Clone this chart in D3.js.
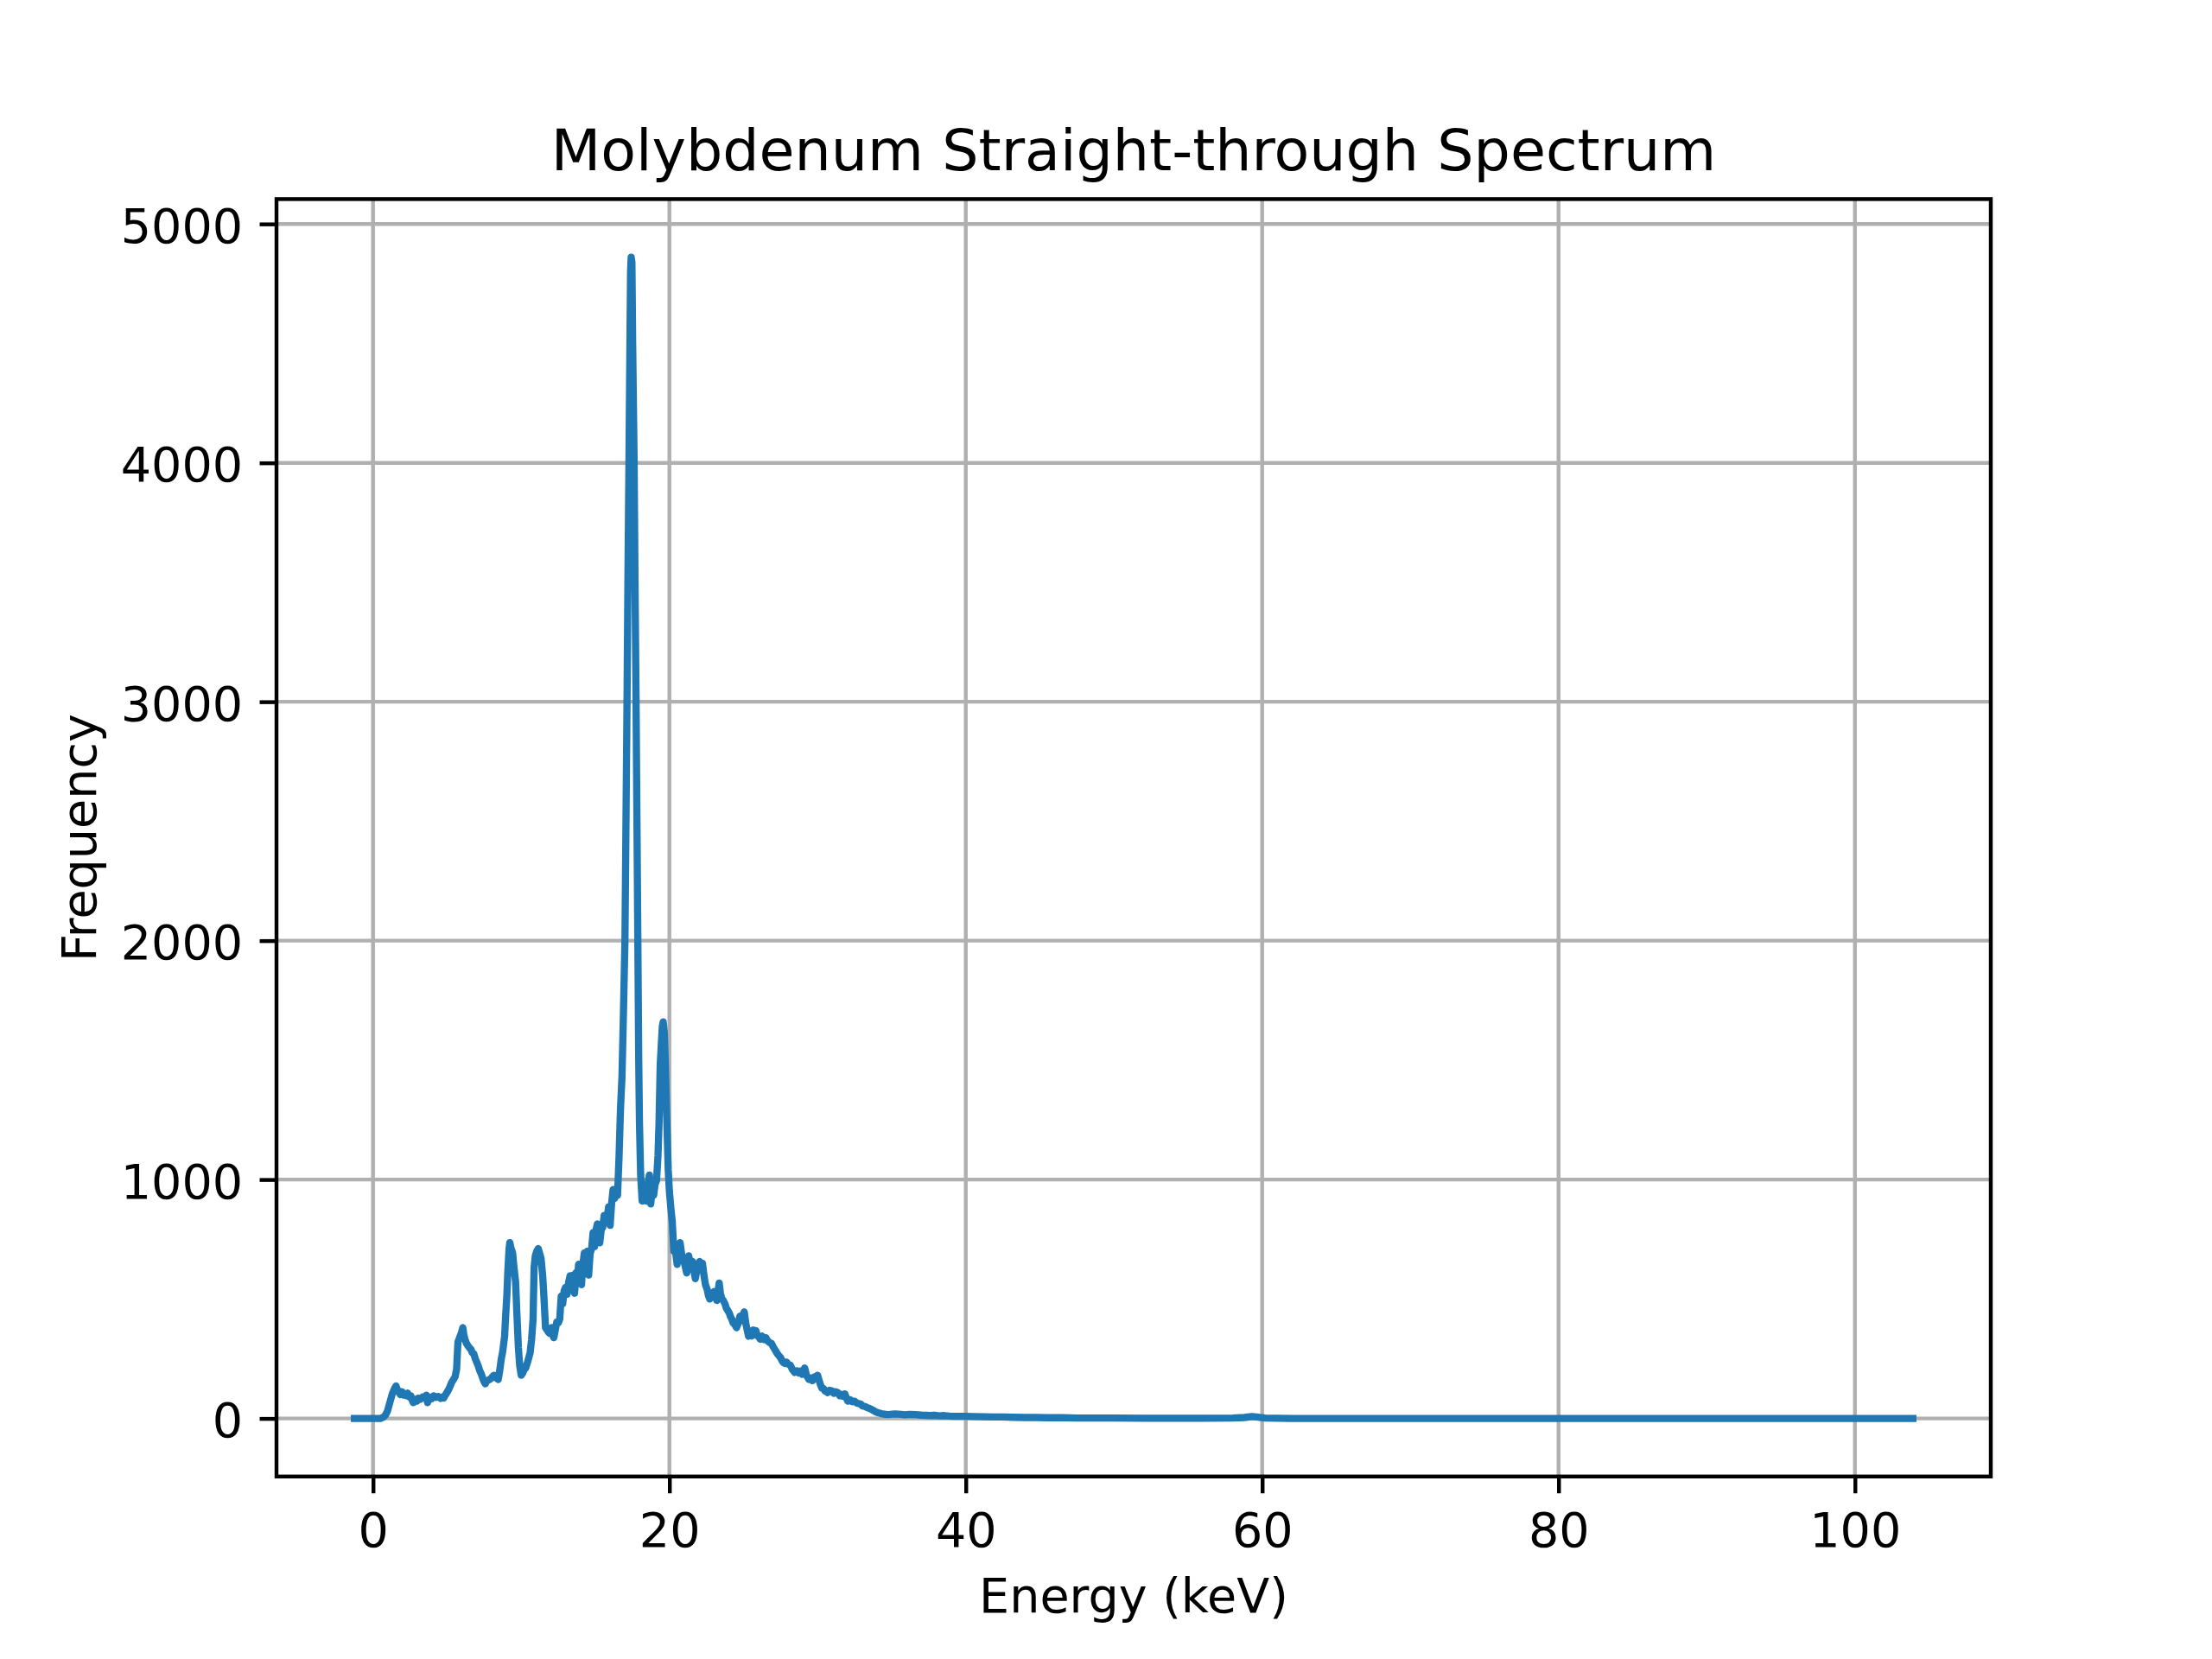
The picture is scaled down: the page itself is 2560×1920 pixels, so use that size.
<!DOCTYPE html>
<html>
<head>
<meta charset="utf-8">
<script src="https://cdn.jsdelivr.net/npm/d3@7"></script>
<style>
  html, body { margin: 0; padding: 0; background: #ffffff; }
  svg { display: block; }
  text { font-family: "DejaVu Sans", sans-serif; fill: #000; }
</style>
</head>
<body>
<svg id="chart" width="2560" height="1920"></svg>
<script>
// ---- Data ----
const titleText = "Molybdenum Straight-through Spectrum";
const xLabelText = "Energy (keV)";
const yLabelText = "Frequency";
const xTickValues = [0, 20, 40, 60, 80, 100];
const yTickValues = [0, 1000, 2000, 3000, 4000, 5000];

const energyKeV = [
  -1.255, 0.5, 0.7, 0.85, 0.97, 1.15, 1.30, 1.45, 1.55, 1.65, 1.75, 1.84, 1.95, 2.05, 2.15, 2.25, 2.33, 2.45, 2.55, 2.65,
  2.72, 2.85, 2.95, 3.05, 3.2, 3.35, 3.5, 3.6, 3.68, 3.8, 3.95, 4.1, 4.25, 4.4, 4.55, 4.7, 4.76, 4.9, 5.05, 5.15,
  5.3, 5.45, 5.54, 5.64, 5.73, 5.85, 5.95, 6.06, 6.13, 6.2, 6.3, 6.4, 6.5, 6.6, 6.7, 6.8, 6.9, 7.0, 7.1, 7.2,
  7.3, 7.45, 7.57, 7.7, 7.87, 8.0, 8.16, 8.3, 8.45, 8.55, 8.65, 8.75, 8.88, 8.95, 9.03, 9.1, 9.18, 9.23, 9.3, 9.42,
  9.5, 9.62, 9.7, 9.81, 9.9, 10.0, 10.1, 10.2, 10.3, 10.45, 10.6, 10.7, 10.8, 10.87, 10.95, 11.05, 11.15, 11.25, 11.34, 11.45,
  11.54, 11.64, 11.75, 11.85, 11.93, 12.05, 12.12, 12.2, 12.3, 12.4, 12.5, 12.6, 12.7, 12.8, 12.9, 13.0, 13.1, 13.2, 13.3, 13.4,
  13.5, 13.6, 13.7, 13.8, 13.87, 13.95, 14.07, 14.15, 14.26, 14.35, 14.45, 14.55, 14.65, 14.75, 14.85, 14.95, 15.05, 15.14, 15.22, 15.3,
  15.4, 15.5, 15.6, 15.7, 15.8, 15.9, 16.0, 16.1, 16.2, 16.3, 16.4, 16.5, 16.6, 16.7, 16.8, 16.9, 17.0, 17.07, 17.14, 17.2,
  17.27, 17.33, 17.38, 17.42, 17.47, 17.52, 17.57, 17.62, 17.68, 17.75, 17.81, 17.87, 17.93, 17.98, 18.06, 18.16, 18.25, 18.35, 18.45, 18.55,
  18.65, 18.74, 18.84, 18.94, 19.03, 19.13, 19.23, 19.3, 19.38, 19.45, 19.52, 19.58, 19.65, 19.72, 19.8, 19.87, 19.92, 20.0, 20.1, 20.19,
  20.3, 20.39, 20.45, 20.52, 20.6, 20.72, 20.8, 20.88, 20.97, 21.05, 21.17, 21.25, 21.3, 21.4, 21.48, 21.56, 21.65, 21.75, 21.85, 21.95,
  22.04, 22.12, 22.23, 22.33, 22.43, 22.55, 22.63, 22.72, 22.85, 23.01, 23.1, 23.2, 23.28, 23.36, 23.45, 23.55, 23.63, 23.75, 23.85, 23.94,
  24.05, 24.13, 24.21, 24.3, 24.42, 24.53, 24.65, 24.76, 24.88, 24.95, 25.05, 25.15, 25.25, 25.34, 25.45, 25.55, 25.65, 25.75, 25.83, 25.95,
  26.05, 26.12, 26.25, 26.38, 26.51, 26.62, 26.75, 26.89, 27.0, 27.1, 27.2, 27.28, 27.4, 27.5, 27.6, 27.67, 27.8, 27.9, 28.0, 28.16,
  28.3, 28.45, 28.6, 28.72, 28.84, 28.95, 29.05, 29.13, 29.25, 29.42, 29.55, 29.65, 29.81, 29.9, 30.0, 30.1, 30.2, 30.29, 30.4, 30.5,
  30.6, 30.68, 30.8, 30.97, 31.1, 31.2, 31.36, 31.5, 31.6, 31.72, 31.84, 31.95, 32.04, 32.2, 32.35, 32.5, 32.65, 32.8, 32.9, 33.05,
  33.2, 33.35, 33.5, 33.7, 33.9, 34.08, 34.3, 34.5, 34.66, 34.9, 35.2, 35.44, 35.63, 35.9, 36.2, 36.6, 37.0, 37.3, 37.58, 37.9,
  38.2, 38.54, 38.9, 39.3, 39.9, 40.5, 41.2, 41.85, 42.5, 43.2, 44.0, 44.76, 45.5, 46.5, 47.5, 48.5, 50, 52, 54, 56,
  58, 58.8, 59.3, 59.6, 60.2, 62, 103.91
];

const frequency = [
  0, 0, 5, 15, 30, 70, 103, 125, 136, 120, 110, 100, 112, 98, 105, 95, 106, 90, 95, 75,
  66, 80, 72, 85, 80, 90, 85, 97, 66, 90, 82, 95, 88, 92, 84, 90, 85, 100, 115, 127,
  150, 165, 175, 205, 320, 340, 355, 380, 350, 332, 315, 305, 296, 290, 275, 271, 250, 235, 220, 200,
  187, 160, 145, 158, 163, 170, 181, 170, 163, 200, 247, 280, 344, 430, 512, 620, 710, 736, 715, 693,
  640, 573, 450, 296, 220, 181, 190, 205, 211, 240, 275, 330, 416, 633, 680, 700, 711, 690, 669, 597,
  500, 380, 370, 360, 356, 380, 350, 338, 370, 404, 400, 416, 512, 480, 535, 549, 520, 570, 597, 560,
  600, 524, 610, 580, 645, 600, 560, 640, 693, 660, 700, 600, 690, 710, 778, 720, 790, 814, 760, 735,
  790, 800, 850, 820, 840, 886, 808, 900, 958, 920, 950, 934, 1091, 1296, 1430, 1700, 2000, 2500, 3000, 3500,
  4000, 4450, 4800, 4861, 4840, 4500, 4250, 4000, 3500, 3000, 2500, 2000, 1500, 1235, 1019, 910, 960, 930, 910, 980,
  1019, 898, 960, 934, 980, 995, 1100, 1236, 1480, 1560, 1640, 1660, 1620, 1500, 1300, 1150, 1043, 950, 880, 826,
  700, 730, 680, 645, 700, 736, 700, 660, 669, 640, 609, 640, 681, 650, 630, 657, 620, 585, 620, 640,
  657, 630, 650, 600, 561, 540, 515, 500, 520, 531, 510, 494, 530, 567, 520, 500, 494, 480, 460, 452,
  440, 425, 416, 400, 392, 380, 400, 428, 410, 430, 446, 400, 370, 344, 360, 345, 370, 355, 368, 345,
  340, 332, 345, 330, 338, 325, 318, 314, 300, 290, 280, 271, 262, 255, 242, 235, 230, 236, 228, 223,
  205, 193, 200, 190, 199, 185, 200, 211, 180, 163, 170, 158, 175, 170, 181, 160, 140, 127, 125, 115,
  112, 108, 118, 115, 105, 112, 108, 95, 100, 92, 103, 85, 72, 78, 70, 72, 64, 62, 60, 52,
  50, 45, 42, 36, 28, 24, 20, 18, 16, 17, 19, 18, 17, 15, 17, 16, 14, 13, 12, 13,
  11, 12, 10, 9, 9, 8, 7, 6, 6, 5, 4, 4, 3, 3, 2, 2, 2, 1, 1, 1,
  2, 4, 8, 6, 2, 0, 0
];

// ---- Layout (matplotlib default 6.4x4.8in @ 400dpi) ----
const W = 2560, H = 1920;
const plot = { left: 320, right: 2304, top: 230.4, bottom: 1708.8 };
const pt = 400 / 72;
const fontSize = 10 * pt;       // 55.6px
const titleSize = 12 * pt;      // 66.7px
const spineW = 0.8 * pt;
const gridW = 0.8 * pt;
const lineW = 1.5 * pt;
const tickLen = 3.5 * pt;
const tickPad = 3.5 * pt;

const points = energyKeV.map((e, i) => ({ e: e, f: frequency[i] }));

// matplotlib auto-limits with 5% margins
const xMin = d3.min(energyKeV), xMax = d3.max(energyKeV);
const yMin = d3.min(frequency), yMax = d3.max(frequency);
const xr = xMax - xMin, yr = yMax - yMin;

const x = d3.scaleLinear()
  .domain([xMin - 0.05 * xr, xMax + 0.05 * xr])
  .range([plot.left, plot.right]);
const y = d3.scaleLinear()
  .domain([yMin - 0.05 * yr, yMax + 0.05 * yr])
  .range([plot.bottom, plot.top]);

const svg = d3.select("#chart");

svg.append("rect").attr("x", 0).attr("y", 0).attr("width", W).attr("height", H).attr("fill", "#ffffff");

// grid
const grid = svg.append("g").attr("class", "grid");
grid.selectAll("line.vx").data(xTickValues).enter().append("line")
  .attr("x1", d => x(d)).attr("x2", d => x(d))
  .attr("y1", plot.top).attr("y2", plot.bottom)
  .attr("stroke", "#b0b0b0").attr("stroke-width", gridW);
grid.selectAll("line.hy").data(yTickValues).enter().append("line")
  .attr("x1", plot.left).attr("x2", plot.right)
  .attr("y1", d => y(d)).attr("y2", d => y(d))
  .attr("stroke", "#b0b0b0").attr("stroke-width", gridW);

// spectrum line
const line = d3.line().x(d => x(d.e)).y(d => y(d.f));
svg.append("path")
  .datum(points)
  .attr("d", line)
  .attr("fill", "none")
  .attr("stroke", "#1f77b4")
  .attr("stroke-width", lineW)
  .attr("stroke-linejoin", "round")
  .attr("stroke-linecap", "square");

// axes
const xAxis = d3.axisBottom(x).tickValues(xTickValues).tickSize(tickLen).tickPadding(tickPad).tickFormat(d3.format("d"));
const yAxis = d3.axisLeft(y).tickValues(yTickValues).tickSize(tickLen).tickPadding(tickPad).tickFormat(d3.format("d"));

const gx = svg.append("g").attr("transform", `translate(0,${plot.bottom})`).call(xAxis);
const gy = svg.append("g").attr("transform", `translate(${plot.left},0)`).call(yAxis);

[gx, gy].forEach(g => {
  g.select(".domain").remove();
  g.selectAll(".tick line").attr("stroke", "#000").attr("stroke-width", spineW);
  g.selectAll(".tick text")
    .attr("fill", "#000")
    .style("font-family", "'DejaVu Sans', sans-serif")
    .style("font-size", fontSize + "px");
});
gx.selectAll(".tick text").attr("dy", "0.77em");
gy.selectAll(".tick text").attr("dy", "0.38em");

// spines
svg.append("rect")
  .attr("x", plot.left).attr("y", plot.top)
  .attr("width", plot.right - plot.left).attr("height", plot.bottom - plot.top)
  .attr("fill", "none").attr("stroke", "#000").attr("stroke-width", spineW)
  .attr("stroke-linejoin", "miter");

// title
svg.append("text")
  .attr("x", (plot.left + plot.right) / 2)
  .attr("y", plot.top - 6 * pt)
  .attr("text-anchor", "middle")
  .style("font-size", titleSize + "px")
  .text(titleText);

// x label
svg.append("text")
  .attr("x", (plot.left + plot.right) / 2)
  .attr("y", 1866)
  .attr("text-anchor", "middle")
  .style("font-size", fontSize + "px")
  .text(xLabelText);

// y label
svg.append("text")
  .attr("transform", `translate(110.7,${(plot.top + plot.bottom) / 2}) rotate(-90)`)
  .attr("text-anchor", "middle")
  .style("font-size", fontSize + "px")
  .text(yLabelText);
</script>
</body>
</html>
